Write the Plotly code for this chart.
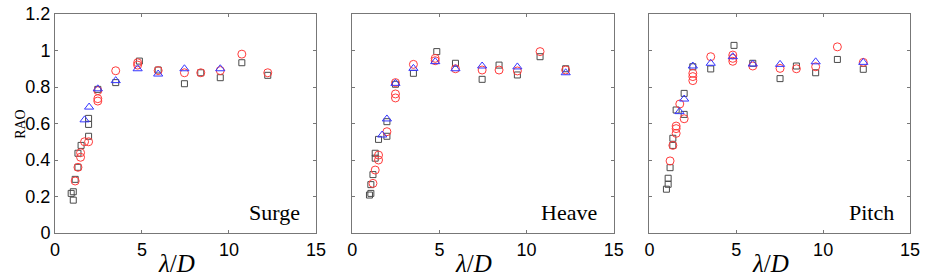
import plotly.graph_objects as go

# ---------------- data ----------------
panel_names = ["Surge", "Heave", "Pitch"]

surge_sq_x = [1.05, 0.93, 1.05, 1.16, 1.32, 1.32, 1.5, 1.93, 1.93, 1.93, 2.46, 3.49, 4.85, 5.93, 7.44, 8.38, 9.5, 10.74, 12.23]
surge_sq_y = [0.18, 0.217, 0.226, 0.294, 0.36, 0.437, 0.48, 0.53, 0.595, 0.628, 0.787, 0.824, 0.942, 0.893, 0.818, 0.878, 0.851, 0.933, 0.864]
surge_ci_x = [1.16, 1.32, 1.47, 1.47, 1.7, 1.93, 2.46, 2.46, 2.46, 3.49, 4.75, 4.75, 5.93, 7.44, 8.38, 9.5, 10.74, 12.23]
surge_ci_y = [0.285, 0.36, 0.44, 0.415, 0.5, 0.5, 0.736, 0.723, 0.78, 0.889, 0.933, 0.92, 0.89, 0.878, 0.878, 0.89, 0.98, 0.878]
surge_tr_x = [1.7, 1.96, 2.46, 3.49, 4.75, 5.93, 7.44, 9.5]
surge_tr_y = [0.62, 0.69, 0.79, 0.835, 0.9, 0.871, 0.9, 0.9]

heave_sq_x = [0.99, 1.07, 1.07, 1.19, 1.32, 1.32, 1.51, 1.99, 1.99, 2.48, 3.51, 4.85, 5.92, 7.45, 8.42, 9.47, 10.77, 12.24]
heave_sq_y = [0.208, 0.217, 0.265, 0.32, 0.437, 0.41, 0.513, 0.53, 0.61, 0.815, 0.875, 0.994, 0.93, 0.842, 0.92, 0.866, 0.966, 0.9]
heave_ci_x = [1.19, 1.32, 1.51, 1.51, 1.99, 2.48, 2.48, 2.48, 3.51, 4.76, 4.76, 5.92, 7.45, 8.42, 9.47, 10.77, 12.24]
heave_ci_y = [0.272, 0.345, 0.427, 0.4, 0.555, 0.824, 0.762, 0.74, 0.924, 0.957, 0.944, 0.9, 0.893, 0.893, 0.888, 0.994, 0.893]
heave_tr_x = [1.72, 1.99, 2.48, 3.51, 4.76, 5.92, 7.45, 9.47, 12.24]
heave_tr_y = [0.537, 0.625, 0.82, 0.902, 0.939, 0.9, 0.915, 0.91, 0.878]

pitch_sq_x = [0.98, 1.08, 1.08, 1.19, 1.35, 1.35, 1.54, 2.0, 2.0, 2.5, 3.53, 4.87, 5.95, 7.52, 8.46, 9.57, 10.82, 12.31]
pitch_sq_y = [0.24, 0.267, 0.3, 0.358, 0.48, 0.519, 0.674, 0.65, 0.765, 0.911, 0.899, 1.028, 0.93, 0.846, 0.915, 0.878, 0.951, 0.897]
pitch_ci_x = [1.19, 1.35, 1.54, 1.54, 1.54, 1.75, 2.0, 2.5, 2.5, 2.5, 3.53, 4.8, 4.8, 4.8, 5.95, 7.52, 8.46, 9.57, 10.82, 12.31]
pitch_ci_y = [0.395, 0.48, 0.586, 0.572, 0.546, 0.707, 0.626, 0.875, 0.857, 0.835, 0.966, 0.975, 0.957, 0.941, 0.915, 0.902, 0.9, 0.911, 1.02, 0.935]
pitch_tr_x = [1.73, 2.0, 2.5, 3.53, 4.8, 5.95, 7.52, 9.57, 12.31]
pitch_tr_y = [0.665, 0.734, 0.915, 0.93, 0.966, 0.926, 0.924, 0.938, 0.935]

x_ticks = [0, 5, 10, 15]
y_ticks = [0, 0.2, 0.4, 0.6, 0.8, 1.0, 1.2]

# ---------------- figure ----------------
panels = [
    (surge_sq_x, surge_sq_y, surge_ci_x, surge_ci_y, surge_tr_x, surge_tr_y),
    (heave_sq_x, heave_sq_y, heave_ci_x, heave_ci_y, heave_tr_x, heave_tr_y),
    (pitch_sq_x, pitch_sq_y, pitch_ci_x, pitch_ci_y, pitch_tr_x, pitch_tr_y),
]
domains = [[0.0, 0.3052], [0.3476, 0.6536], [0.6952, 1.0]]

SQ_COLOR = "#4a4a4a"
CI_COLOR = "#ff3b3b"
TR_COLOR = "#3535ff"

fig = go.Figure()
for i, (sx, sy, cx, cy, tx, ty) in enumerate(panels):
    xa = "x" if i == 0 else f"x{i+1}"
    ya = "y" if i == 0 else f"y{i+1}"
    fig.add_trace(go.Scatter(x=sx, y=sy, mode="markers", xaxis=xa, yaxis=ya,
                             marker=dict(symbol="square-open", size=6, color=SQ_COLOR,
                                         line=dict(width=1, color=SQ_COLOR)),
                             showlegend=False, cliponaxis=False))
    fig.add_trace(go.Scatter(x=cx, y=cy, mode="markers", xaxis=xa, yaxis=ya,
                             marker=dict(symbol="circle-open", size=8, color=CI_COLOR,
                                         line=dict(width=1, color=CI_COLOR)),
                             showlegend=False, cliponaxis=False))
    fig.add_trace(go.Scatter(x=tx, y=ty, mode="markers", xaxis=xa, yaxis=ya,
                             marker=dict(symbol="triangle-up-open", size=8, color=TR_COLOR,
                                         line=dict(width=1, color=TR_COLOR)),
                             showlegend=False, cliponaxis=False))

axis_common = dict(showline=True, linecolor="#777777", linewidth=1, mirror="ticks",
                   ticks="inside", ticklen=3, tickcolor="#777777", showgrid=False,
                   zeroline=False, automargin=False,
                   tickfont=dict(family="Liberation Sans", size=18, color="black"))

layout = dict(width=927, height=280, margin=dict(l=55, r=17, t=14, b=47),
              paper_bgcolor="white", plot_bgcolor="white", showlegend=False)
for i in range(3):
    xk = "xaxis" if i == 0 else f"xaxis{i+1}"
    yk = "yaxis" if i == 0 else f"yaxis{i+1}"
    xanchor = "y" if i == 0 else f"y{i+1}"
    yanchor = "x" if i == 0 else f"x{i+1}"
    layout[xk] = dict(axis_common, domain=domains[i], range=[0, 15], tickvals=x_ticks,
                      anchor=xanchor)
    layout[yk] = dict(axis_common, domain=[0, 1], range=[0, 1.2], tickvals=y_ticks,
                      anchor=yanchor, showticklabels=(i == 0), ticklabelstandoff=0)
fig.update_layout(**layout)

for i, name in enumerate(panel_names):
    xr = "x domain" if i == 0 else f"x{i+1} domain"
    yr = "y domain" if i == 0 else f"y{i+1} domain"
    fig.add_annotation(text=name, xref=xr, yref=yr, x=0.945, y=0.095,
                       xanchor="right", yanchor="middle", showarrow=False,
                       font=dict(family="Liberation Serif", size=22, color="black"))
    # x-axis title
    fig.add_annotation(text="<i>λ</i>/<i>D</i>", xref=xr, yref="paper", x=0.465, y=-0.14,
                       xanchor="center", yanchor="middle", showarrow=False,
                       font=dict(family="Liberation Serif", size=25, color="black"))

fig.add_annotation(text="RAO", xref="paper", yref="paper", x=-0.0405, y=0.5,
                   xanchor="center", yanchor="middle", showarrow=False, textangle=-90,
                   font=dict(family="Liberation Serif", size=14, color="black"))

# remove the default page margin so the figure sits at the window's top-left corner
fig.write_html("out.html", config={"displayModeBar": False},
               post_script="document.body.style.margin='0';")
